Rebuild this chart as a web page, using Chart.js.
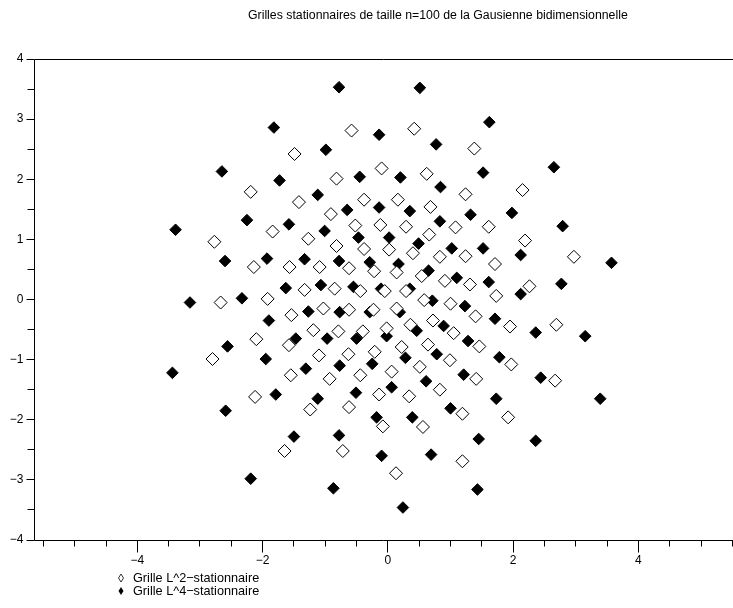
<!DOCTYPE html>
<html><head><meta charset="utf-8">
<script src="https://cdn.jsdelivr.net/npm/chart.js@4.4.0/dist/chart.umd.min.js"></script>
<style>html,body{margin:0;padding:0;background:#fff;}#wrap{width:733px;height:608px;}</style>
</head><body><div id="wrap"><canvas id="c" width="733" height="608"></canvas></div>
<script>
const chartTitle = "Grilles stationnaires de taille n=100 de la Gausienne bidimensionnelle";
const seriesNames = ["Grille L^2\u2212stationnaire", "Grille L^4\u2212stationnaire"];
const xTickLabels = [-4, -2, 0, 2, 4];
const yTickLabels = [-4, -3, -2, -1, 0, 1, 2, 3, 4];

const l2X = [-1.49,-2.19,-1.42,-1.84,-0.58,0.42,1.38,-0.10,-0.82,0.62,1.24,-0.38,0.16,0.68,-0.91,-0.52,-0.12,0.29,1.08,2.15,
  1.61,-1.27,-2.77,-2.14,-1.57,-1.09,-1.33,-2.67,-1.92,-1.54,-1.19,-2.10,-1.58,-2.80,-1.10,-1.55,0.66,-0.82,-0.38,0.02,
  0.40,0.83,1.24,-0.62,-0.22,0.14,0.54,0.91,-0.85,-0.44,-0.05,0.29,0.58,1.00,-1.03,-0.62,-0.23,0.14,0.72,1.05,
  -0.79,-0.40,-0.02,0.36,0.64,-0.63,-0.21,0.22,0.99,0.51,0.06,-0.44,-0.93,2.19,1.71,2.97,1.31,2.26,1.73,1.40,
  1.95,2.69,1.46,1.97,1.41,2.67,-2.12,-1.24,-1.65,-0.14,0.34,0.83,-0.62,-0.08,0.56,1.19,-0.72,1.19,0.13,1.92];
const l2Y = [2.42,1.79,1.62,1.13,2.81,2.84,2.51,2.18,2.01,2.09,1.75,1.66,1.66,1.54,1.42,1.23,1.24,1.21,1.20,1.82,
  1.21,1.01,0.96,0.54,0.54,0.54,0.16,-0.05,0.01,-0.26,-0.51,-0.66,-0.76,-0.99,-0.93,-1.26,1.08,0.89,0.84,0.83,
  0.77,0.71,0.72,0.52,0.47,0.45,0.39,0.31,0.18,0.14,0.14,0.14,-0.01,-0.07,-0.15,-0.17,-0.17,-0.15,-0.35,-0.56,
  -0.53,-0.53,-0.48,-0.42,-0.75,-0.91,-0.87,-0.79,-1.01,-1.12,-1.20,-1.26,-1.32,0.98,0.59,0.71,0.25,0.22,0.06,-0.28,
  -0.45,-0.42,-0.78,-1.08,-1.32,-1.35,-1.62,-1.83,-2.52,-1.58,-1.61,-1.50,-1.79,-2.11,-2.12,-1.90,-2.52,-2.69,-2.89,-1.96];

const l4X = [-1.82,-2.65,-1.73,-1.12,-2.25,-1.58,-3.39,-0.78,0.51,-0.14,0.77,-0.99,-0.45,0.20,0.84,-0.65,-0.14,0.35,0.83,1.32,
  -1.01,1.62,2.65,1.52,1.98,2.79,-2.60,-1.93,-1.33,-1.63,-1.07,-3.16,-2.33,-1.90,-1.27,-2.56,-1.47,-1.95,-3.44,-1.31,
  -0.47,0.02,0.49,1.02,-0.78,-0.29,0.17,0.65,1.10,-0.55,-0.11,0.35,0.71,1.23,-0.77,-0.29,0.19,0.89,1.28,-0.97,
  -0.50,-0.02,0.46,0.78,-0.25,0.28,1.21,-0.77,0.61,1.52,2.12,3.57,1.61,2.12,2.77,1.71,2.36,3.15,1.78,2.44,
  -1.79,-2.59,-1.12,-1.50,-2.19,-0.51,0.06,-0.18,0.39,1.00,-0.78,-0.10,0.69,-0.87,0.24,1.73,3.39,1.45,2.36,1.43];
const l4Y = [2.86,2.13,1.98,1.74,1.32,1.25,1.16,3.53,3.52,2.74,2.58,2.49,2.04,2.03,1.87,1.49,1.53,1.47,1.30,1.41,
  1.14,2.95,2.20,2.11,1.44,1.22,0.64,0.68,0.67,0.19,0.24,-0.05,0.02,-0.35,-0.20,-0.78,-0.65,-0.99,-1.22,-1.15,
  1.03,1.03,0.93,0.85,0.64,0.62,0.59,0.48,0.36,0.21,0.18,0.18,-0.02,-0.11,-0.21,-0.21,-0.21,-0.44,-0.69,-0.65,
  -0.65,-0.61,-0.52,-0.91,-1.07,-0.97,-1.25,-1.10,-1.36,0.85,0.74,0.61,0.29,0.09,0.26,-0.32,-0.55,-0.61,-0.96,-1.30,
  -1.58,-1.85,-1.65,-2.28,-2.98,-1.55,-1.46,-1.96,-1.96,-1.81,-2.26,-2.60,-2.58,-3.14,-3.46,-1.65,-1.65,-2.32,-2.35,-3.16];

const toPts = (xs, ys) => xs.map((x, i) => ({x: x, y: ys[i]}));
const FONT = '"Liberation Sans", Arial, sans-serif';
const fmt = v => (v < 0 ? '\u2212' + Math.abs(v) : String(v));

const axesPlugin = {
  id: 'customAxes',
  afterDraw(chart) {
    const ctx = chart.ctx, xs = chart.scales.x, ys = chart.scales.y;
    const ax = Math.floor(xs.getPixelForValue(xs.min)) + 0.5;
    const ay = Math.floor(ys.getPixelForValue(-4)) + 0.5;
    const ty = Math.floor(ys.getPixelForValue(4)) + 0.5;
    const right = chart.width;
    ctx.save();
    ctx.strokeStyle = '#000';
    ctx.lineWidth = 1;
    ctx.beginPath();
    ctx.moveTo(ax, ty); ctx.lineTo(ax, ay);
    ctx.moveTo(ax, ay); ctx.lineTo(right, ay);
    ctx.moveTo(ax, ty); ctx.lineTo(right, ty);
    for (let v = -4; v <= 4.001; v += 0.5) {
      const p = Math.floor(ys.getPixelForValue(v)) + 0.5;
      const len = Number.isInteger(v) ? 8 : 7;
      ctx.moveTo(ax - len, p); ctx.lineTo(ax, p);
    }
    for (let v = -5.5; v <= 5.501; v += 0.5) {
      const p = Math.floor(xs.getPixelForValue(v)) + 0.5;
      if (p < ax || p > right) continue;
      const len = xTickLabels.includes(v) ? 12 : 6;
      ctx.moveTo(p, ay); ctx.lineTo(p, ay + len);
    }
    ctx.stroke();
    ctx.fillStyle = '#000';
    ctx.font = '12px ' + FONT;
    ctx.textBaseline = 'middle';
    ctx.textAlign = 'right';
    yTickLabels.forEach(v => ctx.fillText(fmt(v), ax - 11, ys.getPixelForValue(v)));
    ctx.textAlign = 'center';
    xTickLabels.forEach(v => ctx.fillText(fmt(v), xs.getPixelForValue(v), ay + 20));
    ctx.font = '12.3px ' + FONT;
    ctx.textAlign = 'left';
    ctx.fillText(chartTitle, 248, 16);
    const lx = 121, ly = [578, 591];
    ctx.font = '12.7px ' + FONT;
    seriesNames.forEach((name, i) => {
      ctx.beginPath();
      ctx.moveTo(lx, ly[i] - 4); ctx.lineTo(lx + 2.5, ly[i]); ctx.lineTo(lx, ly[i] + 4); ctx.lineTo(lx - 2.5, ly[i]); ctx.closePath();
      if (i === 0) { ctx.lineWidth = 0.8; ctx.stroke(); } else { ctx.fill(); }
      ctx.fillText(name, 133, ly[i]);
    });
    ctx.restore();
  }
};

new Chart(document.getElementById('c'), {
  type: 'scatter',
  data: {
    datasets: [
      {label: seriesNames[0], data: toPts(l2X, l2Y), pointStyle: 'rectRot', pointRadius: 6.5,
       backgroundColor: '#fff', borderColor: '#000', borderWidth: 1},
      {label: seriesNames[1], data: toPts(l4X, l4Y), pointStyle: 'rectRot', pointRadius: 5.8,
       backgroundColor: '#000', borderColor: '#000', borderWidth: 1}
    ]
  },
  options: {
    responsive: false, animation: false, devicePixelRatio: 1, events: [],
    layout: {autoPadding: false, padding: {left: 34, top: 59, right: 0, bottom: 68}},
    plugins: {legend: {display: false}, tooltip: {enabled: false}, title: {display: false}},
    scales: {
      x: {type: 'linear', min: -5.65, max: 5.51, display: false},
      y: {type: 'linear', min: -4, max: 4, display: false}
    }
  },
  plugins: [axesPlugin]
});
</script></body></html>
